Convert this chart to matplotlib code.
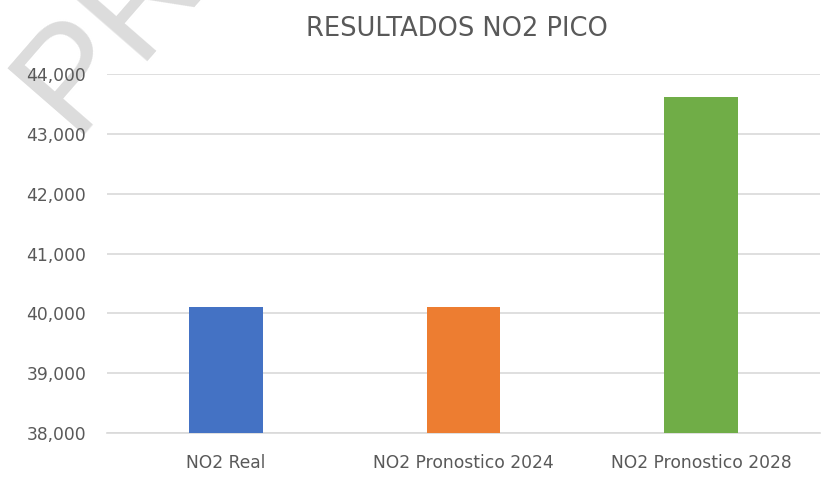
import matplotlib.pyplot as plt
from matplotlib.ticker import FuncFormatter

# datos NO2 pico (ug/m3)
categorias = ['NO2 Real', 'NO2 Pronostico 2024', 'NO2 Pronostico 2028']
valores = [40.11, 40.11, 43.62]
colores = ['#4472c4', '#ed7d31', '#70ad47']

fig = plt.figure(figsize=(8.25, 4.78), dpi=100)
ax = fig.add_axes([0.1297, 0.0941, 0.8643, 0.7509])

# marca de agua (detras de todo)
fig.text(0.088, 0.718, 'PRELIMINAR', rotation=49, rotation_mode='anchor',
         fontsize=106, color='#dcdcdc', family='Liberation Sans',
         ha='left', va='baseline', zorder=-1)

x = range(len(categorias))
ax.bar(x, valores, width=0.31, color=colores, zorder=3)

ax.set_ylim(38, 44)
ax.set_xlim(-0.5, 2.5)
ax.set_yticks([38, 39, 40, 41, 42, 43, 44])
ax.yaxis.set_major_formatter(FuncFormatter(lambda v, p: f'{v:.3f}'.replace('.', ',')))
ax.set_xticks(list(x))
ax.set_xticklabels(categorias)

ax.grid(axis='y', color='#d9d9d9', linewidth=1.2, zorder=0)
for s in ['top', 'right', 'left']:
    ax.spines[s].set_visible(False)
ax.spines['bottom'].set_color('#d9d9d9')
ax.spines['bottom'].set_linewidth(1.2)
ax.tick_params(axis='both', length=0, labelsize=12.3, labelcolor='#595959', pad=15)
ax.tick_params(axis='x', pad=15)
ax.patch.set_alpha(0)

fig.text(0.554, 0.94, 'RESULTADOS NO2 PICO', ha='center', va='center',
         fontsize=18.5, color='#595959')

fig.savefig('out.png', dpi=100)
